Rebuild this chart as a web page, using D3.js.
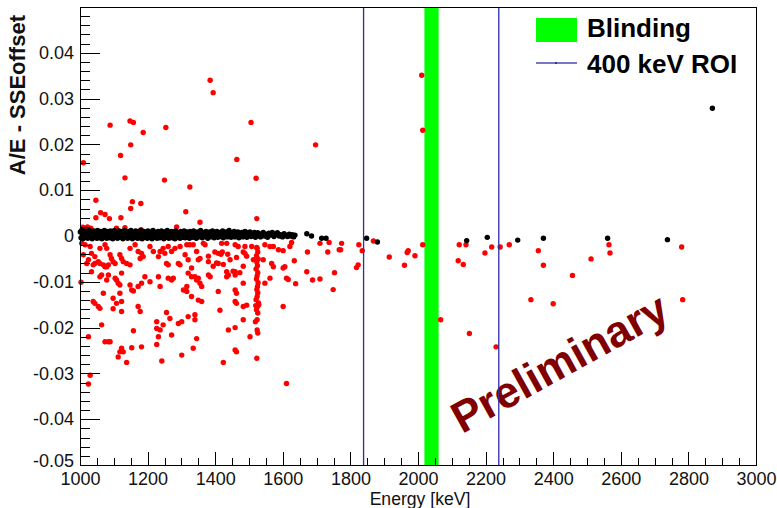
<!DOCTYPE html>
<html>
<head>
<meta charset="utf-8">
<script src="https://cdn.jsdelivr.net/npm/d3@7"></script>
<style>
  body { margin: 0; background: #fff; }
  text { font-family: "Liberation Sans", Arial, Helvetica, sans-serif; }
</style>
</head>
<body>
<div class="svg-container"></div>
<script>
// events failing the cut (red), [energy keV, A/E - SSEoffset]
var redEvents = [
  [1010,0.016],[1089,0.0242],[1120,0.0176],[1133,0.0127],[1148,0.0251],[1158,0.0248],[1150,0.0199],
  [1187,0.0226],[1254,0.0237],[1250,0.0122],[1325,0.0107],[1385,0.034],[1394,0.0313],[1506,0.0248],
  [1464,0.0167],[1521,0.0126],[1697,0.0199],[2011,0.0351],[2014,0.0231],
  [1047,0.0078],[1047,0.004],[1061,0.0051],[1074,0.0047],[1087,0.0038],[1121,0.004],[1150,0.006],
  [1155,0.0075],[1180,0.0071],[1313,0.0053],[1355,0.003],[1133,0.0018],[1181,0.0014],[1286,0.002],
  [1008,0.0019],[1022,0.002],[1032,0.0017],[1108,0.0017],[1523,0.0038],[1494,0.0008],
  [1626,-0.0014],[1710,-0.0016],[1737,-0.0014],[1774,-0.0016],[1673,-0.0035],[1733,-0.0035],
  [1767,-0.003],[1771,-0.003],[1825,-0.0019],[1835,-0.0032],[1868,-0.0011],[1915,-0.0046],
  [1971,-0.0032],[1968,-0.0036],[1991,-0.0043],[1960,-0.0064],[2014,-0.0019],[2122,-0.0019],
  [2142,-0.0019],[2119,-0.0054],[2134,-0.0062],[2198,-0.0037],[2218,-0.0024],[2243,-0.0024],
  [2270,-0.0019],[2356,-0.0032],[2371,-0.0064],[2457,-0.0086],[2512,-0.005],[2565,-0.0019],
  [2568,-0.0037],[2780,-0.0024],[2334,-0.0139],[2400,-0.0148],[2783,-0.0139],[2231,-0.0242],
  [2067,-0.0183],[2152,-0.0213],
  [1634,-0.0054],[1671,-0.0078],[1753,-0.008],[1818,-0.0069],[1823,-0.0063],[1638,-0.0104],
  [1688,-0.0096],[1710,-0.0094],[1749,-0.0117],[1611,-0.0322],
  [1316,-0.0019],[1325,-0.0019],[1335,-0.0019],[1365,-0.0016],[1370,-0.0019],[1419,-0.0016],
  [1434,-0.0016],[1459,-0.0019],[1468,-0.0023],[1488,-0.0023],[1508,-0.0023],[1523,-0.0025],
  [1547,-0.0019],[1562,-0.0023],[1572,-0.0023],[1587,-0.003],[1601,-0.0032],[1621,-0.0023],
  [1311,-0.0041],[1320,-0.0052],[1330,-0.007],[1345,-0.0034],[1355,-0.0049],[1350,-0.0052],
  [1380,-0.0056],[1399,-0.0035],[1409,-0.0038],[1417,-0.004],[1421,-0.0035],[1437,-0.004],
  [1409,-0.006],[1424,-0.0062],[1463,-0.0047],[1483,-0.0035],[1488,-0.0038],[1542,-0.0052],
  [1567,-0.006],[1572,-0.0067],[1562,-0.0092],[1547,-0.0103],[1601,-0.007],[1606,-0.0067],
  [1611,-0.0092],[1616,-0.0095],
  [1380,-0.0044],[1394,-0.0066],[1404,-0.0059],[1444,-0.0052],[1453,-0.0077],[1473,-0.008],
  [1483,-0.0066],[1493,-0.0044],[1513,-0.0052],
  [1316,-0.011],[1320,-0.0081],[1330,-0.0089],[1340,-0.0089],[1345,-0.0096],[1350,-0.0092],
  [1355,-0.0103],[1360,-0.011],[1380,-0.0085],[1385,-0.0089],[1409,-0.0121],[1434,-0.0078],
  [1439,-0.0085],[1434,-0.0089],[1459,-0.0078],[1459,-0.0085],[1483,-0.0103],[1459,-0.0118],
  [1463,-0.0125],[1459,-0.0143],[1463,-0.0147],[1330,-0.0132],[1350,-0.014],[1360,-0.0143],
  [1414,-0.0162],[1483,-0.0154],[1493,-0.0151],[1601,-0.0154],[1320,-0.0176],[1340,-0.0172],
  [1340,-0.0183],[1483,-0.0183],[1439,-0.0205],[1459,-0.02],[1503,-0.022],[1345,-0.0224],
  [1335,-0.0245],[1459,-0.0249],[1463,-0.0253],[1424,-0.0276],[1523,-0.0267],
  [1524,-0.0027],[1526,-0.0035],[1522,-0.0043],[1527,-0.005],[1523,-0.0057],[1525,-0.0065],
  [1521,-0.0072],[1526,-0.008],[1524,-0.0087],[1522,-0.0094],[1527,-0.0102],[1525,-0.011],
  [1523,-0.0117],[1526,-0.0124],[1524,-0.0132],[1521,-0.0139],[1528,-0.0146],[1525,-0.0154],
  [1522,-0.0161],[1526,-0.0168],[1524,-0.0183],[1519,-0.0187],[1524,-0.0205],[1526,-0.0212],
  [1529,-0.015],[1520,-0.0152],
  [1005,-0.0016],[1015,-0.0019],[1010,-0.0041],[1030,-0.0023],[1034,-0.0038],[1044,-0.0045],
  [1059,-0.0027],[1074,-0.0019],[1079,-0.0027],[1025,-0.0052],[1020,-0.006],[1039,-0.0063],
  [1044,-0.006],[1054,-0.0056],[1059,-0.006],[1069,-0.0063],[1074,-0.0067],[1089,-0.0041],
  [1093,-0.0049],[1098,-0.0056],[1104,-0.006],[1118,-0.0041],[1123,-0.0049],[1128,-0.0056],
  [1084,-0.0063],[1079,-0.0067],[1148,-0.0027],[1163,-0.0019],[1172,-0.0034],[1182,-0.0038],
  [1187,-0.0045],[1178,-0.0049],[1138,-0.006],[1148,-0.0063],[1207,-0.0023],[1217,-0.0034],
  [1232,-0.0045],[1237,-0.0034],[1246,-0.0027],[1251,-0.0038],[1261,-0.0023],[1271,-0.0034],
  [1281,-0.0027],[1296,-0.0023],[1256,-0.006],[1261,-0.0063],[1291,-0.006],[1296,-0.0063],
  [1064,-0.0085],[1059,-0.0089],[1084,-0.0085],[1079,-0.0096],[1003,-0.0101],[1104,-0.0092],
  [1108,-0.0096],[1123,-0.0081],[1113,-0.0103],[1118,-0.0107],[1148,-0.0107],[1153,-0.0118],
  [1158,-0.012],[1172,-0.011],[1182,-0.0103],[1192,-0.0089],[1207,-0.01],[1232,-0.0089],
  [1237,-0.011],[1261,-0.0092],[1271,-0.0096],[1276,-0.0092],[1306,-0.0118],[1034,-0.0078],
  [1069,-0.0125],[1039,-0.0143],[1044,-0.0147],[1054,-0.0154],[1059,-0.0158],[1098,-0.0136],
  [1118,-0.0125],[1123,-0.0143],[1108,-0.0147],[1098,-0.0159],[1123,-0.0165],[1172,-0.0154],
  [1178,-0.0165],[1064,-0.0194],[1158,-0.0207],[1227,-0.0187],[1227,-0.0202],[1246,-0.0194],
  [1237,-0.0205],[1256,-0.0167],[1266,-0.018],[1232,-0.022],[1227,-0.0237],[1301,-0.0187],
  [1291,-0.0191],[1271,-0.0216],[1025,-0.022],[1074,-0.0231],[1084,-0.0231],[1089,-0.0231],
  [1123,-0.0245],[1118,-0.0253],[1128,-0.0253],[1153,-0.0244],[1182,-0.0242],[1113,-0.0264],
  [1138,-0.0276],[1242,-0.0273],[1301,-0.026],[1030,-0.0304],[1025,-0.0323],[1316,-0.0121]
];

// events passing the cut (black)
var blackEvents = [
  [1001,.0009],[1003,-.0004],[1005,.0012],[1007,.0002],[1009,-.0006],[1011,.0007],[1013,.0000],[1015,.0011],[1017,-.0003],[1019,.0005],
  [1021,.0010],[1023,-.0005],[1026,.0003],[1028,.0012],[1030,-.0002],[1032,.0006],[1034,.0009],[1036,-.0006],[1039,.0001],[1041,.0011],
  [1043,-.0003],[1045,.0007],[1047,.0004],[1050,-.0005],[1052,.0012],[1054,.0000],[1056,.0008],[1058,-.0004],[1061,.0010],[1063,.0003],
  [1065,-.0006],[1067,.0009],[1070,.0001],[1072,.0012],[1074,-.0002],[1076,.0006],[1079,-.0005],[1081,.0010],[1083,.0002],[1085,.0007],
  [1088,-.0004],[1090,.0011],[1092,.0000],[1095,.0008],[1097,-.0006],[1099,.0004],[1102,.0012],[1104,-.0002],[1106,.0006],[1109,.0009],
  [1111,-.0005],[1113,.0002],[1116,.0011],[1118,-.0003],[1120,.0007],[1123,.0000],[1125,.0010],[1127,-.0006],[1130,.0004],[1132,.0012],
  [1134,-.0002],[1137,.0008],[1139,.0001],[1141,-.0005],[1144,.0010],[1146,.0005],[1148,-.0003],[1151,.0012],[1153,.0002],[1155,-.0006],
  [1158,.0008],[1160,.0004],[1162,-.0002],[1165,.0011],[1167,.0000],[1170,-.0005],[1172,.0009],[1174,.0003],[1177,-.0004],[1179,.0012],
  [1182,.0006],[1184,-.0006],[1186,.0001],[1189,.0010],[1191,-.0003],[1194,.0007],[1196,.0002],[1199,-.0005],[1201,.0011],[1203,.0004],
  [1206,-.0002],[1208,.0009],[1211,.0000],[1213,-.0006],[1216,.0012],[1218,.0005],[1221,-.0003],[1223,.0008],[1226,.0001],[1228,-.0005],
  [1231,.0010],[1233,.0003],[1236,-.0004],[1238,.0007],[1241,.0011],[1243,-.0001],[1246,.0005],[1248,-.0006],[1251,.0009],[1253,.0002],
  [1256,-.0003],[1258,.0012],[1261,.0004],[1263,-.0005],[1266,.0008],[1268,.0000],[1271,.0010],[1273,-.0004],[1276,.0006],[1278,.0002],
  [1281,-.0006],[1283,.0011],[1286,.0003],[1288,-.0002],[1291,.0008],[1293,.0005],[1296,-.0005],[1298,.0010],[1301,.0001],[1303,-.0003],
  [1306,.0007],[1308,.0011],[1311,-.0004],[1313,.0003],[1316,.0009],[1318,-.0001],[1321,.0005],[1324,-.0005],[1326,.0010],[1329,.0002],
  [1331,.0007],[1334,-.0003],[1336,.0011],[1339,.0000],[1342,.0006],[1344,-.0005],[1347,.0009],[1349,.0003],[1352,-.0002],[1355,.0008],
  [1357,.0012],[1360,.0001],[1362,-.0004],[1365,.0007],[1368,.0004],[1370,-.0001],[1373,.0010],[1376,.0002],[1378,-.0005],[1381,.0006],
  [1384,.0009],[1386,-.0002],[1389,.0004],[1392,.0011],[1394,.0000],[1397,-.0004],[1400,.0007],[1402,.0003],[1405,.0010],[1408,-.0003],
  [1411,.0005],[1413,.0008],[1416,-.0001],[1419,.0004],[1422,.0011],[1424,-.0004],[1427,.0006],[1430,.0002],[1433,.0009],[1436,-.0002],
  [1438,.0005],[1441,.0012],[1444,.0001],[1447,-.0003],[1450,.0007],[1453,.0004],[1456,.0010],[1458,-.0002],[1461,.0006],[1464,.0002],
  [1467,.0009],[1470,-.0004],[1473,.0005],[1476,.0001],[1479,.0008],[1482,-.0002],[1485,.0004],[1488,.0010],[1491,.0000],[1494,-.0003],
  [1497,.0006],[1500,.0003],[1503,.0009],[1506,-.0001],[1509,.0005],[1512,.0002],[1516,.0008],[1519,-.0003],[1522,.0004],[1526,.0007],
  [1530,.0001],[1534,-.0002],[1538,.0005],[1542,.0008],[1546,.0000],[1550,.0004],[1555,-.0003],[1559,.0006],[1564,.0002],[1569,.0008],
  [1574,-.0001],[1579,.0004],[1584,.0007],[1589,.0000],[1594,.0003],[1599,-.0002],[1604,.0005],[1609,.0001],[1614,-.0001],[1619,.0004],
  [1624,.0000],[1628,.0003],[1632,-.0002],[1636,.0002],
  [1671,.0005],[1685,.0000],[1715,-.0005],[1728,-.0005],[1848,-.0005],[1880,-.0013],[2144,-.001],[2205,-.0003],
  [2295,-.0009],[2371,-.0005],[2561,-.0005],[2738,-.0008],[2871,.0279]
];

var xTicks = [1000, 1200, 1400, 1600, 1800, 2000, 2200, 2400, 2600, 2800, 3000];
var yTicks = [-0.05, -0.04, -0.03, -0.02, -0.01, 0, 0.01, 0.02, 0.03, 0.04];
var blindWindow = [2019, 2061];   // keV
var roiEdges = [1839, 2239];      // keV
var legendLabels = ["Blinding", "400 keV ROI"];

var margin = { top: 7, right: 21, bottom: 43, left: 80 };
var drawWidth = 777, drawHeight = 508;
var width = drawWidth - margin.left - margin.right;
var height = drawHeight - margin.top - margin.bottom;

var svg = d3.select(".svg-container").append("svg")
  .attr("width", drawWidth)
  .attr("height", drawHeight)
  .style("display", "block");

svg.append("rect").attr("width", drawWidth).attr("height", drawHeight).attr("fill", "#fff");

var x = d3.scaleLinear().domain([1000, 3000]).range([margin.left, margin.left + width]);
var y = d3.scaleLinear().domain([-0.05, 0.05]).range([margin.top + height, margin.top]);

// blinding window
svg.append("rect")
  .attr("x", x(blindWindow[0]))
  .attr("y", margin.top)
  .attr("width", x(blindWindow[1]) - x(blindWindow[0]))
  .attr("height", height)
  .attr("fill", "#00ff00");

// Preliminary stamp
svg.append("text")
  .attr("transform", "translate(" + x(2130) + "," + y(-0.0433) + ") rotate(-29)")
  .attr("font-size", 44)
  .attr("font-weight", "bold")
  .attr("fill", "#800000")
  .text("Preliminary");

// points
svg.append("g").selectAll("circle")
  .data(redEvents)
  .join("circle")
  .attr("cx", function(d) { return x(d[0]); })
  .attr("cy", function(d) { return y(d[1]); })
  .attr("r", 2.7)
  .attr("fill", "#ff0000");

svg.append("g").selectAll("circle")
  .data(blackEvents)
  .join("circle")
  .attr("cx", function(d) { return x(d[0]); })
  .attr("cy", function(d) { return y(d[1]); })
  .attr("r", 2.7)
  .attr("fill", "#000");

// ROI edges
svg.append("g").selectAll("line")
  .data(roiEdges)
  .join("line")
  .attr("x1", function(d) { return x(d); })
  .attr("x2", function(d) { return x(d); })
  .attr("y1", margin.top)
  .attr("y2", margin.top + height)
  .attr("stroke", "#2b2bab")
  .attr("stroke-width", 1.3);

// axes: ticks pointing into the frame
var fmt = function(d) { return Math.abs(d) < 1e-9 ? "0" : d.toFixed(2); };

var xMinor = svg.append("g")
  .attr("transform", "translate(0," + (margin.top + height) + ")")
  .call(d3.axisBottom(x).tickValues(d3.range(1000, 3001, 50)).tickSize(-7).tickSizeOuter(0).tickFormat(""));
var xAxis = svg.append("g")
  .attr("transform", "translate(0," + (margin.top + height) + ")")
  .call(d3.axisBottom(x).tickValues(xTicks).tickSize(-13).tickSizeOuter(0).tickPadding(7).tickFormat(d3.format("d")));

var yMinor = svg.append("g")
  .attr("transform", "translate(" + margin.left + ",0)")
  .call(d3.axisLeft(y).tickValues(d3.range(-0.05, 0.0501, 0.002)).tickSize(-10).tickSizeOuter(0).tickFormat(""));
var yAxis = svg.append("g")
  .attr("transform", "translate(" + margin.left + ",0)")
  .call(d3.axisLeft(y).tickValues(yTicks).tickSize(-20).tickSizeOuter(0).tickPadding(6).tickFormat(fmt));

[xMinor, xAxis, yMinor, yAxis].forEach(function(g) {
  g.select(".domain").remove();
  g.selectAll("line").attr("stroke", "#000").attr("shape-rendering", "crispEdges");
  g.selectAll("text")
    .attr("font-family", "'Liberation Sans', Arial, sans-serif")
    .attr("font-size", 18)
    .attr("fill", "#111");
});
// lift the bottom y label a touch so it clears the first x label
yAxis.selectAll(".tick text").filter(function(d) { return d === -0.05; }).attr("dy", "0.1em");

// frame
svg.append("rect")
  .attr("x", margin.left + 0.5)
  .attr("y", margin.top + 0.5)
  .attr("width", width)
  .attr("height", height)
  .attr("fill", "none")
  .attr("stroke", "#000")
  .attr("stroke-width", 1);

// axis titles
svg.append("text")
  .attr("x", 420)
  .attr("y", 505)
  .attr("text-anchor", "middle")
  .attr("font-size", 17.6)
  .attr("fill", "#111")
  .text("Energy [keV]");

svg.append("text")
  .attr("transform", "translate(25,15) rotate(-90)")
  .attr("text-anchor", "end")
  .attr("font-size", 22)
  .attr("font-weight", "bold")
  .attr("fill", "#111")
  .text("A/E - SSEoffset");

// legend
var legend = svg.append("g");
legend.append("rect")
  .attr("x", 536).attr("y", 18).attr("width", 41).attr("height", 24)
  .attr("fill", "#00ff00");
legend.append("line")
  .attr("x1", 536).attr("x2", 577).attr("y1", 63).attr("y2", 63)
  .attr("stroke", "#4a4ab4").attr("stroke-width", 1.5);
legend.append("circle")
  .attr("cx", 556).attr("cy", 63).attr("r", 1)
  .attr("fill", "#222266");
legend.selectAll("text.lab")
  .data(legendLabels)
  .join("text")
  .attr("class", "lab")
  .attr("x", 587)
  .attr("y", function(d, i) { return i === 0 ? 37 : 73; })
  .attr("font-size", 26)
  .attr("font-weight", "bold")
  .attr("fill", "#000")
  .text(function(d) { return d; });
</script>
</body>
</html>
